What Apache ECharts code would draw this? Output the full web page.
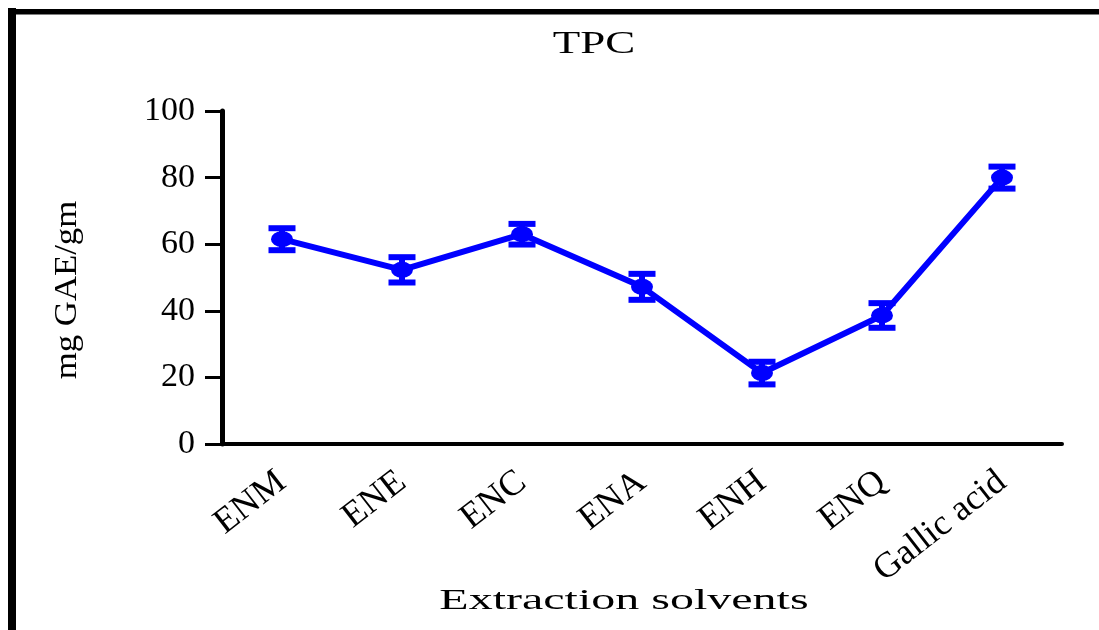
<!DOCTYPE html>
<html>
<head>
<meta charset="utf-8">
<script src="https://cdn.jsdelivr.net/npm/echarts@6/dist/echarts.min.js"></script>
<style>
html,body{margin:0;padding:0;background:#fff;}
#chart{width:1099px;height:630px;}
</style>
</head>
<body>
<div id="chart"></div>
<script>
// ---- data ----
const categories = ['ENM', 'ENE', 'ENC', 'ENA', 'ENH', 'ENQ', 'Gallic acid'];
const tpcMean = [61.5, 52.3, 63.0, 47.2, 21.3, 38.6, 80.0];
const tpcError = [3.3, 3.8, 3.1, 3.9, 3.4, 3.7, 3.3];
const yTicks = [0, 20, 40, 60, 80, 100];
const chartTitle = 'TPC';
const xName = 'Extraction solvents';
const yName = 'mg GAE/gm';

const BLUE = '#0000ff';
const SERIF = 'Liberation Serif';

const errData = categories.map((c, i) => [i, tpcMean[i] - tpcError[i], tpcMean[i] + tpcError[i]]);

const chart = echarts.init(document.getElementById('chart'), null, {renderer: 'canvas'});

chart.setOption({
  animation: false,
  backgroundColor: '#fff',
  grid: {left: 222, right: 37, top: 111, bottom: 186, containLabel: false},
  xAxis: {
    type: 'category',
    data: categories,
    boundaryGap: true,
    axisLine: {lineStyle: {color: '#000', width: 4}},
    axisTick: {alignWithLabel: true, length: 8, lineStyle: {color: '#000', width: 5}},
    axisLabel: {
      rotate: 38, margin: 34, color: '#000',
      fontFamily: SERIF, fontSize: 36, interval: 0
    },
    splitLine: {show: false}
  },
  yAxis: {
    type: 'value',
    min: yTicks[0], max: yTicks[yTicks.length - 1], interval: yTicks[1] - yTicks[0],
    axisLine: {show: true, lineStyle: {color: '#000', width: 5}},
    axisTick: {show: true, length: 17, lineStyle: {color: '#000', width: 3}},
    axisLabel: {margin: 27, color: '#000', fontFamily: SERIF, fontSize: 34},
    splitLine: {show: false}
  },
  graphic: [
    {type: 'line', shape: {x1: 12, y1: 8, x2: 12, y2: 700}, style: {stroke: '#000', lineWidth: 8}, z: 100},
    {type: 'line', shape: {x1: 8, y1: 11.7, x2: 1200, y2: 11.7}, style: {stroke: '#000', lineWidth: 5.5}, z: 100},
    {type: 'text', x: 594, y: 45, scaleX: 1.45,
      style: {text: chartTitle, fontFamily: SERIF, fontSize: 31, fill: '#000', align: 'center', verticalAlign: 'middle'}},
    {type: 'text', x: 624, y: 601, scaleX: 1.6,
      style: {text: xName, fontFamily: SERIF, fontSize: 30, fill: '#000', align: 'center', verticalAlign: 'middle'}},
    {type: 'text', x: 68, y: 290, rotation: Math.PI / 2, scaleX: 1.12,
      style: {text: yName, fontFamily: SERIF, fontSize: 31, fill: '#000', align: 'center', verticalAlign: 'middle'}}
  ],
  series: [
    {
      type: 'custom',
      data: errData,
      z: 3,
      renderItem: function (params, api) {
        const x = api.value(0);
        const lo = api.coord([x, api.value(1)]);
        const hi = api.coord([x, api.value(2)]);
        const hw = 13.5;
        const st = {stroke: BLUE, lineWidth: 6, lineCap: 'butt'};
        return {
          type: 'group',
          children: [
            {type: 'line', shape: {x1: lo[0], y1: lo[1], x2: hi[0], y2: hi[1]}, style: st},
            {type: 'line', shape: {x1: lo[0] - hw, y1: lo[1], x2: lo[0] + hw, y2: lo[1]}, style: st},
            {type: 'line', shape: {x1: hi[0] - hw, y1: hi[1], x2: hi[0] + hw, y2: hi[1]}, style: st}
          ]
        };
      }
    },
    {
      type: 'line',
      data: tpcMean,
      z: 4,
      symbol: 'circle',
      symbolSize: [22, 16],
      lineStyle: {color: BLUE, width: 6},
      itemStyle: {color: BLUE, borderWidth: 0}
    }
  ]
});
</script>
</body>
</html>
